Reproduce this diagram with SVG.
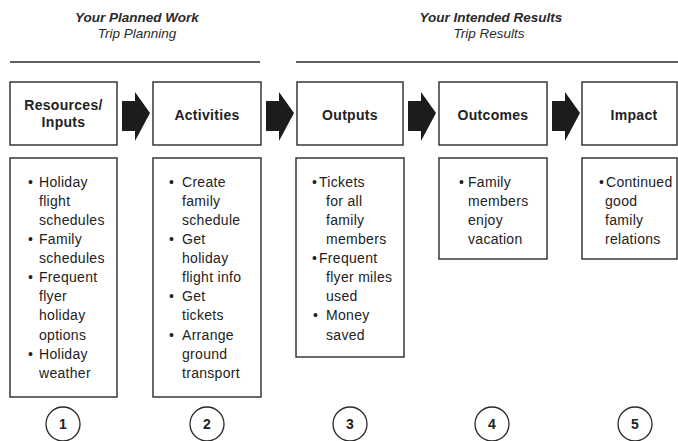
<svg xmlns="http://www.w3.org/2000/svg" width="678" height="441" viewBox="0 0 678 441">
<style>
.box{fill:#fff;stroke:#2a2a2a;stroke-width:1.4}
.rule{stroke:#2a2a2a;stroke-width:1.6}
.hd{font-family:"Liberation Sans",Arial,sans-serif;font-size:13.5px;font-style:italic;fill:#2a2a2a;text-anchor:middle}
.hb{font-weight:bold}
.lbl{font-family:"Liberation Sans",Arial,sans-serif;font-size:14px;font-weight:bold;fill:#222;text-anchor:middle;letter-spacing:0.3px}
.t{font-family:"Liberation Sans",Arial,sans-serif;font-size:14px;fill:#222;letter-spacing:0.3px}
.num{font-family:"Liberation Sans",Arial,sans-serif;font-size:14px;font-weight:bold;fill:#222;text-anchor:middle}
.circ{fill:#fff;stroke:#2a2a2a;stroke-width:1.3}
.arr{fill:#1c1c1c}
</style>
<defs>
<path id="arrow" d="M0,-15 L13,-15 L13,-24 L28,-3 L13,25 L13,15 L0,15 Z"/>
</defs>

<g id="header-planned">
<text class="hd hb" x="137" y="22">Your Planned Work</text>
<text class="hd" x="137" y="38">Trip Planning</text>
<line class="rule" x1="10" y1="62" x2="260" y2="62"/>
</g>
<g id="header-results">
<text class="hd hb" x="491" y="22">Your Intended Results</text>
<text class="hd" x="489" y="38">Trip Results</text>
<line class="rule" x1="296" y1="62" x2="678" y2="62"/>
</g>

<g id="connectors">
<use href="#arrow" class="arr" x="122" y="116"/>
<use href="#arrow" class="arr" x="266" y="116"/>
<use href="#arrow" class="arr" x="408" y="116"/>
<use href="#arrow" class="arr" x="552" y="116"/>
</g>

<g id="resources">
<rect class="box" x="10" y="82" width="107" height="63"/>
<text class="lbl" x="63.5" y="110">Resources/</text>
<text class="lbl" x="63.5" y="127">Inputs</text>
<rect class="box" x="10" y="158" width="107" height="239"/>
<text class="t" x="28" y="187">•</text><text class="t" x="39" y="187">Holiday</text>
<text class="t" x="39" y="206">flight</text>
<text class="t" x="39" y="225">schedules</text>
<text class="t" x="28" y="244">•</text><text class="t" x="39" y="244">Family</text>
<text class="t" x="39" y="263">schedules</text>
<text class="t" x="28" y="282">•</text><text class="t" x="39" y="282">Frequent</text>
<text class="t" x="39" y="301">flyer</text>
<text class="t" x="39" y="320">holiday</text>
<text class="t" x="39" y="340">options</text>
<text class="t" x="28" y="359">•</text><text class="t" x="39" y="359">Holiday</text>
<text class="t" x="39" y="378">weather</text>
<circle class="circ" cx="63" cy="424" r="17"/>
<text class="num" x="63" y="429">1</text>
</g>

<g id="activities">
<rect class="box" x="153" y="82" width="108" height="63"/>
<text class="lbl" x="207" y="120">Activities</text>
<rect class="box" x="153" y="158" width="108" height="239"/>
<text class="t" x="169" y="187">•</text><text class="t" x="182" y="187">Create</text>
<text class="t" x="182" y="206">family</text>
<text class="t" x="182" y="225">schedule</text>
<text class="t" x="169" y="244">•</text><text class="t" x="182" y="244">Get</text>
<text class="t" x="182" y="263">holiday</text>
<text class="t" x="182" y="282">flight info</text>
<text class="t" x="169" y="301">•</text><text class="t" x="182" y="301">Get</text>
<text class="t" x="182" y="320">tickets</text>
<text class="t" x="169" y="340">•</text><text class="t" x="182" y="340">Arrange</text>
<text class="t" x="182" y="359">ground</text>
<text class="t" x="182" y="378">transport</text>
<circle class="circ" cx="207" cy="424" r="17"/>
<text class="num" x="207" y="429">2</text>
</g>

<g id="outputs">
<rect class="box" x="297" y="82" width="106" height="63"/>
<text class="lbl" x="350" y="120">Outputs</text>
<rect class="box" x="296" y="158" width="108" height="199"/>
<text class="t" x="312" y="187">•</text><text class="t" x="319" y="187">Tickets</text>
<text class="t" x="326" y="206">for all</text>
<text class="t" x="326" y="225">family</text>
<text class="t" x="326" y="244">members</text>
<text class="t" x="312" y="263">•</text><text class="t" x="319" y="263">Frequent</text>
<text class="t" x="326" y="282">flyer miles</text>
<text class="t" x="326" y="301">used</text>
<text class="t" x="313" y="320">•</text><text class="t" x="326" y="320">Money</text>
<text class="t" x="326" y="340">saved</text>
<circle class="circ" cx="350" cy="424" r="17"/>
<text class="num" x="350" y="429">3</text>
</g>

<g id="outcomes">
<rect class="box" x="439" y="82" width="108" height="63"/>
<text class="lbl" x="493" y="120">Outcomes</text>
<rect class="box" x="439" y="158" width="108" height="101"/>
<text class="t" x="459" y="187">•</text><text class="t" x="468" y="187">Family</text>
<text class="t" x="468" y="206">members</text>
<text class="t" x="468" y="225">enjoy</text>
<text class="t" x="468" y="244">vacation</text>
<circle class="circ" cx="492" cy="424" r="17"/>
<text class="num" x="492" y="429">4</text>
</g>

<g id="impact">
<rect class="box" x="582" y="82" width="95" height="63"/>
<text class="lbl" x="634" y="120">Impact</text>
<rect class="box" x="582" y="158" width="95" height="101"/>
<text class="t" x="599" y="187">•</text><text class="t" x="606" y="187">Continued</text>
<text class="t" x="605" y="206">good</text>
<text class="t" x="605" y="225">family</text>
<text class="t" x="605" y="244">relations</text>
<circle class="circ" cx="635" cy="424" r="17"/>
<text class="num" x="635" y="429">5</text>
</g>
</svg>
